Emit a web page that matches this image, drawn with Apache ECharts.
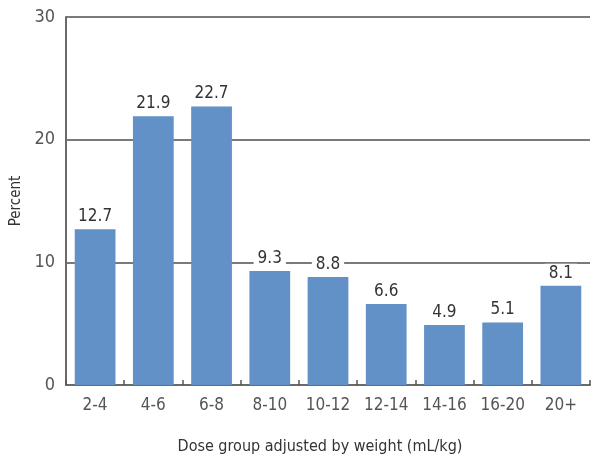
<!DOCTYPE html>
<html><head><meta charset="utf-8">
<script src="https://cdn.jsdelivr.net/npm/echarts@6/dist/echarts.min.js"></script>
<style>html,body{margin:0;padding:0;background:#fff}#c{width:600px;height:470px}</style>
</head><body><div id="c"></div>
<script>
const categories = ['2-4','4-6','6-8','8-10','10-12','12-14','14-16','16-20','20+'];
const values = [12.7, 21.9, 22.7, 9.3, 8.8, 6.6, 4.9, 5.1, 8.1];
const yTicks = [0, 10, 20, 30];
const FONT = "'DejaVu Sans Condensed', 'Liberation Sans Narrow', sans-serif";
const chart = echarts.init(document.getElementById('c'));
chart.setOption({
  animation: false,
  grid: { left: 66, right: 10, top: 17, bottom: 85, outerBoundsMode: 'none', containLabel: false },
  xAxis: {
    type: 'category', data: categories,
    name: 'Dose group adjusted by weight (mL/kg)', nameLocation: 'middle', nameGap: 54,
    nameTextStyle: { fontFamily: FONT, fontSize: 16, color: '#333', padding: [0, 16, 0, 0] },
    axisLine: { lineStyle: { color: '#6a6a6a', width: 2 } },
    axisTick: { show: true, inside: true, length: 5, interval: 0, lineStyle: { color: '#555', width: 1.5 } },
    axisLabel: { fontFamily: FONT, fontSize: 17, color: '#555', margin: 12, interval: 0 }
  },
  yAxis: {
    type: 'value', min: yTicks[0], max: yTicks[yTicks.length - 1], interval: 10,
    name: 'Percent', nameLocation: 'middle', nameGap: 42, nameRotate: 90,
    nameTextStyle: { fontFamily: FONT, fontSize: 15, color: '#333' },
    axisLine: { show: true, lineStyle: { color: '#6a6a6a', width: 2 } },
    axisTick: { show: false },
    axisLabel: { fontFamily: FONT, fontSize: 18, color: '#555', margin: 11 },
    splitLine: { lineStyle: { color: '#7a7a7a', width: 2 } }
  },
  series: [{
    type: 'bar', data: values, barCategoryGap: '30%',
    itemStyle: { color: '#6191c6' },
    label: {
      show: true, position: 'top', distance: 3, fontFamily: FONT, fontSize: 17, color: '#333',
      backgroundColor: '#fff', padding: [1, 4]
    }
  }]
});
</script></body></html>
